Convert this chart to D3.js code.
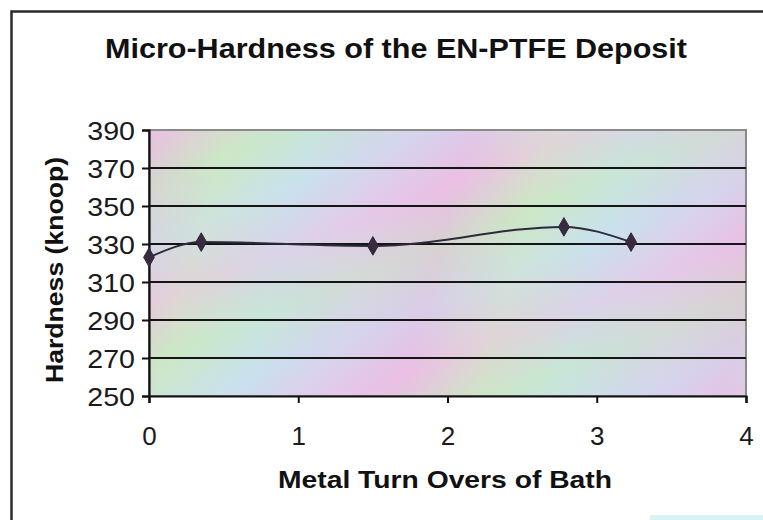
<!DOCTYPE html>
<html>
<head>
<meta charset="utf-8">
<script src="https://cdn.jsdelivr.net/npm/d3@7"></script>
<style>
  html, body { margin: 0; padding: 0; background: #fff; }
  svg { display: block; font-family: "Liberation Sans", Arial, sans-serif; }
</style>
</head>
<body>
<svg id="chart" width="763" height="520"></svg>
<script>
// ---- data ----
const turnOvers = [0, 0.35, 1.5, 2.78, 3.23];
const hardness  = [323, 331, 329, 339, 331];
const yTicks = [250, 270, 290, 310, 330, 350, 370, 390];
const xTicks = [0, 1, 2, 3, 4];
const titleText = "Micro-Hardness of the EN-PTFE Deposit";
const xLabelText = "Metal Turn Overs of Bath";
const yLabelText = "Hardness (knoop)";

const svg = d3.select("#chart");
const W = 763, H = 520;
const plot = { left: 149, right: 746, top: 130, bottom: 396 };

const x = d3.scaleLinear().domain([0, 4]).range([plot.left, plot.right]);
const y = d3.scaleLinear().domain([250, 390]).range([plot.bottom, plot.top]);

// outer chart frame
svg.append("rect").attr("x", 0).attr("y", 0).attr("width", W).attr("height", H).attr("fill", "#fff");
svg.append("rect").attr("x", 650).attr("y", 515).attr("width", W - 650).attr("height", 5).attr("fill", "#d8f2f6");
svg.append("path")
  .attr("d", `M11.5,${H} V11.5 H${W}`)
  .attr("fill", "none").attr("stroke", "#2a2a2a").attr("stroke-width", 2.5);

// pastel background
const defs = svg.append("defs");
const g1 = defs.append("linearGradient").attr("id", "bg1")
  .attr("gradientUnits", "userSpaceOnUse")
  .attr("x1", plot.left).attr("y1", plot.top).attr("x2", plot.left + 300).attr("y2", plot.top + 80)
  .attr("spreadMethod", "repeat");
[["0%", "#e8b8e0"], ["25%", "#d0e6c4"], ["50%", "#c6e2ea"], ["75%", "#dcccea"], ["100%", "#e8b8e0"]]
  .forEach(([o, c]) => g1.append("stop").attr("offset", o).attr("stop-color", c));
const g2 = defs.append("linearGradient").attr("id", "bg2")
  .attr("gradientUnits", "userSpaceOnUse")
  .attr("x1", plot.left).attr("y1", plot.top).attr("x2", plot.left + 60).attr("y2", plot.top + 150)
  .attr("spreadMethod", "repeat");
[["0%", "#eec4e8"], ["33%", "#c8eac4"], ["66%", "#cce0f2"], ["100%", "#eec4e8"]]
  .forEach(([o, c]) => g2.append("stop").attr("offset", o).attr("stop-color", c));

svg.append("rect")
  .attr("x", plot.left).attr("y", plot.top)
  .attr("width", plot.right - plot.left).attr("height", plot.bottom - plot.top)
  .attr("fill", "url(#bg1)");
svg.append("rect")
  .attr("x", plot.left).attr("y", plot.top)
  .attr("width", plot.right - plot.left).attr("height", plot.bottom - plot.top)
  .attr("fill", "url(#bg2)").attr("opacity", 0.5);

// plot border (grey)
svg.append("rect")
  .attr("x", plot.left).attr("y", plot.top)
  .attr("width", plot.right - plot.left).attr("height", plot.bottom - plot.top)
  .attr("fill", "none").attr("stroke", "#8a8a8a").attr("stroke-width", 2);

// gridlines
svg.append("g").selectAll("line")
  .data(yTicks.filter(v => v !== 250 && v !== 390))
  .join("line")
  .attr("x1", plot.left).attr("x2", plot.right)
  .attr("y1", d => y(d)).attr("y2", d => y(d))
  .attr("stroke", "#151515").attr("stroke-width", 2.2);

// axes
const yAxis = svg.append("g")
  .attr("transform", `translate(${plot.left},0)`)
  .call(d3.axisLeft(y).tickValues(yTicks).tickSize(7).tickPadding(0).tickFormat(d3.format("d")));
const xAxis = svg.append("g")
  .attr("transform", `translate(0,${plot.bottom})`)
  .call(d3.axisBottom(x).tickValues(xTicks).tickSize(7).tickPadding(24).tickFormat(d3.format("d")));
[yAxis, xAxis].forEach(a => {
  a.select(".domain").attr("stroke", "#111").attr("stroke-width", 2.2);
  a.selectAll(".tick line").attr("stroke", "#111").attr("stroke-width", 2);
  a.selectAll(".tick text").attr("fill", "#1a1a1a")
    .attr("font-size", 26).attr("font-family", "Liberation Sans, Arial, sans-serif");
});
// y tick labels slightly wider, like the scan
yAxis.selectAll(".tick text")
  .attr("x", null).attr("dy", "0.36em")
  .attr("transform", "translate(-14,0) scale(1.1,1)");

// line (smoothed)
const pts = turnOvers.map((t, i) => [t, hardness[i]]);
const line = d3.line().x(d => x(d[0])).y(d => y(d[1])).curve(d3.curveMonotoneX);
svg.append("path").datum(pts)
  .attr("d", line).attr("fill", "none")
  .attr("stroke", "#2b2b3a").attr("stroke-width", 2);

// diamond markers
svg.append("g").selectAll("path")
  .data(pts).join("path")
  .attr("transform", d => `translate(${x(d[0])},${y(d[1])})`)
  .attr("d", d3.symbol().type(d3.symbolDiamond).size(100))
  .attr("fill", "#3a2a40").attr("stroke", "#2a2a3a").attr("stroke-width", 1);

// titles
svg.append("text")
  .attr("x", 396).attr("y", 58).attr("text-anchor", "middle")
  .attr("font-size", 28).attr("font-weight", "bold").attr("fill", "#111")
  .attr("textLength", 582).attr("lengthAdjust", "spacingAndGlyphs")
  .text(titleText);
svg.append("text")
  .attr("x", 445).attr("y", 488).attr("text-anchor", "middle")
  .attr("font-size", 24).attr("font-weight", "bold").attr("fill", "#111")
  .attr("textLength", 334).attr("lengthAdjust", "spacingAndGlyphs")
  .text(xLabelText);
svg.append("text")
  .attr("transform", `translate(63,${(157 + 383) / 2}) rotate(-90)`)
  .attr("text-anchor", "middle")
  .attr("font-size", 24).attr("font-weight", "bold").attr("fill", "#111")
  .attr("textLength", 226).attr("lengthAdjust", "spacingAndGlyphs")
  .text(yLabelText);
</script>
</body>
</html>
